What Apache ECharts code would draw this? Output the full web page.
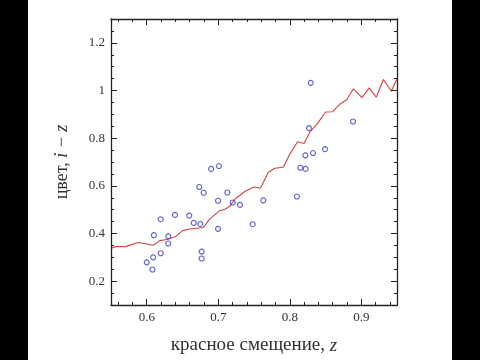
<!DOCTYPE html>
<html>
<head>
<meta charset="utf-8">
<script src="https://cdn.jsdelivr.net/npm/echarts@6/dist/echarts.min.js"></script>
<style>
html,body{margin:0;padding:0;background:#fff;}
#chart{width:480px;height:360px;}
</style>
</head>
<body>
<div id="chart"></div>
<script>
// Red trend line (z, colour)
const lineZ = [0.550,0.558,0.570,0.588,0.598,0.609,0.618,0.628,0.640,0.650,0.660,0.679,0.688,0.702,0.709,0.716,0.724,0.737,0.750,0.759,0.770,0.779,0.791,0.800,0.811,0.820,0.828,0.838,0.850,0.860,0.870,0.880,0.889,0.901,0.911,0.921,0.931,0.942,0.950];
const lineColor = [0.338,0.346,0.345,0.362,0.357,0.351,0.370,0.375,0.386,0.412,0.419,0.425,0.460,0.496,0.501,0.514,0.546,0.576,0.595,0.590,0.657,0.674,0.678,0.733,0.785,0.778,0.825,0.858,0.910,0.911,0.942,0.962,1.007,0.970,1.011,0.972,1.046,0.997,1.049];

// Blue points (z, colour)
const pointZ = [0.600,0.608,0.609,0.610,0.6195,0.6195,0.630,0.630,0.6395,0.6595,0.6657,0.6749,0.6735,0.6796,0.6768,0.6768,0.690,0.701,0.6997,0.6997,0.7127,0.7202,0.7304,0.7482,0.763,0.810,0.8148,0.8222,0.8218,0.8325,0.827,0.8293,0.8493,0.8885];
const pointColor = [0.279,0.249,0.300,0.393,0.460,0.317,0.388,0.358,0.478,0.475,0.4445,0.440,0.595,0.571,0.324,0.295,0.671,0.683,0.5375,0.4195,0.572,0.530,0.520,0.439,0.539,0.555,0.676,0.671,0.728,0.7375,0.842,1.032,0.754,0.870];

// Axis ranges and ticks
const xRange = [0.55, 0.95];
const yRange = [0.1, 1.3];
const xMajorTicks = [0.6, 0.7, 0.8, 0.9];
const xMinorTicks = [0.56,0.58,0.62,0.64,0.66,0.68,0.72,0.74,0.76,0.78,0.82,0.84,0.86,0.88,0.92,0.94];
const yMajorTicks = [0.2, 0.4, 0.6, 0.8, 1.0, 1.2];
const yMinorTicks = [0.15,0.25,0.3,0.35,0.45,0.5,0.55,0.65,0.7,0.75,0.85,0.9,0.95,1.05,1.1,1.15,1.25];

const xTitle = 'красное смещение, ';
const xTitleVar = 'z';
const yTitle = 'цвет, ';
const yTitleVar = 'i − z';

const AX = '#222';
const TXT = '#333';
const serif = '"Liberation Serif", "DejaVu Serif", serif';

function mkAxis(kind, position, ticks, len, withLine, withLabels, extra) {
  const range = kind === 'x' ? xRange : yRange;
  const ax = {
    type: 'value',
    position: position,
    min: range[0],
    max: range[1],
    splitLine: {show: false},
    axisLine: {show: withLine, onZero: false, lineStyle: {color: AX, width: 1.3}},
    axisTick: {show: true, inside: true, length: len, customValues: ticks, lineStyle: {color: AX, width: 1}},
    axisLabel: withLabels
      ? {show: true, customValues: ticks, color: TXT, fontFamily: serif, fontSize: 13, margin: 6}
      : {show: false},
    z: 10
  };
  return Object.assign(ax, extra || {});
}

const chart = echarts.init(document.getElementById('chart'), null, {renderer: 'canvas'});
chart.setOption({
  animation: false,
  backgroundColor: '#fff',
  grid: {left: 111, top: 19, width: 286, height: 288, containLabel: false},
  graphic: [
    {type: 'rect', left: 0, top: 0, shape: {width: 28, height: 360}, style: {fill: '#000'}, z: 100},
    {type: 'rect', left: 452, top: 0, shape: {width: 28, height: 360}, style: {fill: '#000'}, z: 100}
  ],
  xAxis: [
    mkAxis('x', 'bottom', xMajorTicks, 6, true, true, {
      name: '{a|' + xTitle + '}{b|' + xTitleVar + '}',
      nameLocation: 'middle',
      nameGap: 31,
      nameTextStyle: {
        rich: {
          a: {fontFamily: serif, fontSize: 19, color: TXT},
          b: {fontFamily: serif, fontSize: 19, fontStyle: 'italic', color: TXT}
        }
      }
    }),
    mkAxis('x', 'bottom', xMinorTicks, 3, false, false),
    mkAxis('x', 'top', xMajorTicks, 6, true, false),
    mkAxis('x', 'top', xMinorTicks, 3, false, false)
  ],
  yAxis: [
    mkAxis('y', 'left', yMajorTicks, 6, true, true, {
      name: '{a|' + yTitle + '}{b|' + yTitleVar + '}',
      nameLocation: 'middle',
      nameGap: 40,
      nameTextStyle: {
        rich: {
          a: {fontFamily: serif, fontSize: 18, color: TXT},
          b: {fontFamily: serif, fontSize: 18, fontStyle: 'italic', color: TXT}
        }
      }
    }),
    mkAxis('y', 'left', yMinorTicks, 3, false, false),
    mkAxis('y', 'right', yMajorTicks, 6, true, false),
    mkAxis('y', 'right', yMinorTicks, 3, false, false)
  ],
  series: [
    {
      type: 'line',
      xAxisIndex: 0, yAxisIndex: 0,
      data: lineZ.map((z, i) => [z, lineColor[i]]),
      showSymbol: false,
      lineStyle: {color: '#d34545', width: 1.1},
      z: 3
    },
    {
      type: 'scatter',
      xAxisIndex: 0, yAxisIndex: 0,
      data: pointZ.map((z, i) => [z, pointColor[i]]),
      symbol: 'circle',
      symbolSize: 5,
      itemStyle: {color: 'rgba(0,0,0,0)', borderColor: '#3b3bc4', borderWidth: 1.1},
      z: 4
    }
  ]
});
</script>
</body>
</html>
